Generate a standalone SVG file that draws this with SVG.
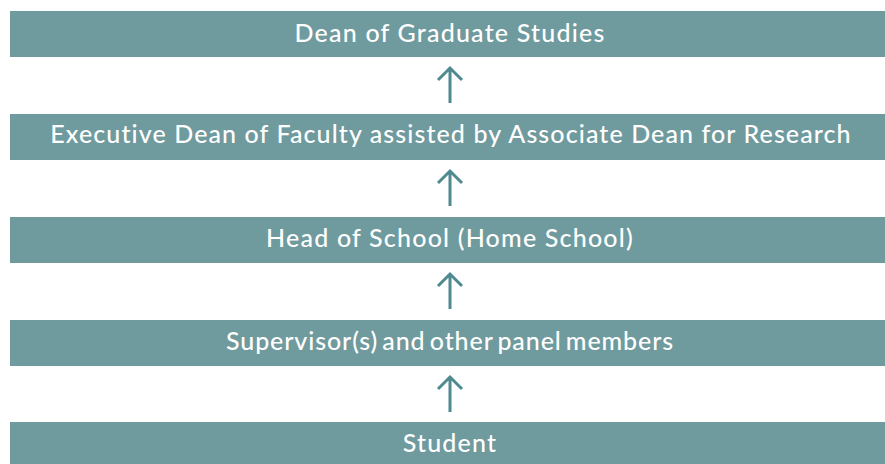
<svg xmlns="http://www.w3.org/2000/svg" width="885" height="464" viewBox="0 0 885 464">
<style>
.box{fill:#6f9a9e}
.lbl{fill:#ffffff;font-family:Lato,"Open Sans",sans-serif;font-size:25px;font-weight:500;letter-spacing:1.2px;text-anchor:middle}
.arr{fill:none;stroke:#4f8a90;stroke-width:3;stroke-linecap:butt;stroke-linejoin:miter}
</style>
<rect width="885" height="464" fill="#ffffff"/>
<g id="n1"><rect class="box" x="10" y="11" width="875" height="46"/><text class="lbl" x="450" y="42">Dean of Graduate Studies</text></g>
<g id="n2"><rect class="box" x="10" y="114" width="875" height="46"/><text class="lbl" x="451" y="143" style="letter-spacing:1.1px">Executive Dean of Faculty assisted by Associate Dean for Research</text></g>
<g id="n3"><rect class="box" x="10" y="217" width="875" height="46"/><text class="lbl" x="450" y="247">Head of School (Home School)</text></g>
<g id="n4"><rect class="box" x="10" y="320" width="875" height="46"/><text class="lbl" x="450" y="350" style="letter-spacing:0.9px;word-spacing:-3px">Supervisor(s) and other panel members</text></g>
<g id="n5"><rect class="box" x="10" y="422" width="875" height="42"/><text class="lbl" x="450" y="452">Student</text></g>
<g id="connectors">
<path class="arr" d="M450 103V68M438 80L450 68L462 80"/>
<path class="arr" d="M450 206V171M438 183L450 171L462 183"/>
<path class="arr" d="M450 309V274M438 286L450 274L462 286"/>
<path class="arr" d="M450 412V377M438 389L450 377L462 389"/>
</g>
</svg>
